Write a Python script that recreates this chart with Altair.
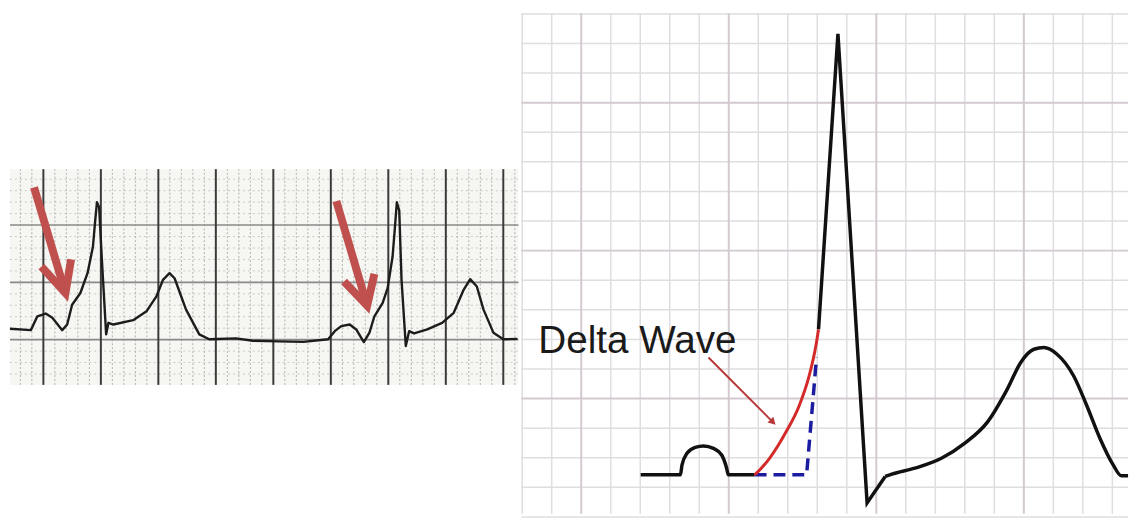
import altair as alt
import pandas as pd

# ---------------- LEFT PANEL: recorded strip (units: mm of ECG paper) ----------------
beat1_t = [-2.91, -1.09, -0.52, 0.20, 0.78, 1.64, 2.07, 2.50, 3.22, 3.84, 4.31, 4.51, 4.66,
           4.85, 5.09, 5.46, 5.66, 6.09, 7.81, 8.97, 9.83, 10.40, 10.97, 11.41, 12.41, 13.56]
beat1_v = [0.95, 0.83, 2.04, 2.28, 1.90, 0.83, 1.32, 3.05, 4.07, 5.80, 8.10, 10.41, 11.99,
           11.56, 6.95, 0.46, 1.47, 1.32, 1.70, 2.47, 3.77, 5.22, 5.80, 5.36, 2.62, 0.46]
pause_t = [14.42, 16.75, 18.21, 20.45, 22.61, 24.77]
pause_v = [0.03, 0.11, -0.10, -0.15, -0.19, 0.03]
beat2_t = [25.34, 25.91, 26.64, 27.21, 27.87, 28.36, 28.79, 29.51, 29.94, 30.37, 30.60, 30.74,
           30.95, 31.15, 31.52, 31.81, 32.24, 33.39, 34.68, 35.69, 36.55, 37.12, 37.70, 38.28,
           39.14, 40.00, 41.23]
beat2_v = [0.74, 1.18, 1.32, 0.89, -0.21, 0.61, 2.04, 3.20, 4.50, 7.23, 10.12, 11.99,
           11.27, 5.22, -0.55, 0.74, 0.54, 0.89, 1.47, 2.34, 4.35, 5.28, 4.64, 2.62,
           0.61, 0.03, 0.07]

# red arrows pointing at the delta waves: [shaft start, tip, wing L, wing R]
arrow1_x = [-0.81, 1.92, -0.17, 2.41]
arrow1_y = [13.29, 4.07, 6.37, 7.01]
arrow2_x = [25.48, 28.16, 26.15, 28.79]
arrow2_y = [12.08, 2.97, 5.07, 5.74]

strip_x = [-2.905, 41.32]
strip_y = [-3.95, 14.88]
L_DOM_X = [-2.99, 41.32]
L_DOM_Y = [-15.2, 28.75]

# ---------------- RIGHT PANEL: schematic (units: small grid squares) ----------------
p_t = [2.015, 3.359, 3.416, 3.584, 3.863, 4.145, 4.481, 4.760, 4.928, 4.985, 5.878]
p_v = [0.422, 0.422, 0.757, 1.149, 1.350, 1.400, 1.317, 1.092, 0.647, 0.422, 0.422]
delta_t = [5.878, 6.103, 6.382, 6.943, 7.390, 7.726, 7.951, 8.042]
delta_v = [0.422, 0.647, 0.982, 1.876, 2.767, 3.772, 4.777, 5.337]
qrs_t = [8.042, 8.700, 9.688, 10.302]
qrs_v = [5.337, 15.330, -0.526, 0.369]
st_t = [10.302, 10.527, 11.310, 12.207, 12.990, 13.772, 14.444, 14.894, 15.341, 15.677,
        16.124, 16.685, 17.131, 17.581, 18.028, 18.307, 18.532]
st_v = [0.369, 0.446, 0.647, 0.982, 1.484, 2.211, 3.327, 4.221, 4.667, 4.724,
        4.499, 3.772, 2.767, 1.652, 0.757, 0.389, 0.389]
normal_t = [5.878, 7.638, 7.974]
normal_v = [0.422, 0.422, 4.389]
label_text = "Delta Wave"
label_pos = [-1.455, 4.533]
pointer_x = [4.313, 6.47]
pointer_y = [4.389, 2.23]

grid_x = [-2.026, 18.532]
grid_y = [-0.894, 16.02]
R_DOM_X = [-2.026, 18.532]
R_DOM_Y = [-0.894, 16.124]


# ---------------- helpers ----------------
def sx(dom, f="x"):
    return alt.X(f"{f}:Q", scale=alt.Scale(domain=dom, nice=False, zero=False), axis=None)


def sy(dom, f="y"):
    return alt.Y(f"{f}:Q", scale=alt.Scale(domain=dom, nice=False, zero=False), axis=None)


def line_df(t, v):
    return pd.DataFrame({"x": t, "y": v, "o": list(range(len(t)))})


# ---------------- LEFT chart ----------------
lstrip = alt.Chart(pd.DataFrame({"x": [strip_x[0]], "x2": [strip_x[1]],
                                 "y": [strip_y[0]], "y2": [strip_y[1]]})).mark_rect(
    color="#f6f6f2").encode(x=sx(L_DOM_X), x2="x2:Q", y=sy(L_DOM_Y), y2="y2:Q")

vmin = [k for k in range(-2, 42) if k % 5]
vmaj = [k for k in range(0, 42, 5)]
hmin = [k for k in range(-3, 15) if k % 5]
hmaj = [0, 5, 10]

def vlines(xs):
    return pd.DataFrame({"x": xs, "y": [strip_y[0]] * len(xs), "y2": [strip_y[1]] * len(xs)})

def hlines(ys):
    return pd.DataFrame({"y": ys, "x": [strip_x[0]] * len(ys), "x2": [strip_x[1]] * len(ys)})

l_vmin = alt.Chart(vlines(vmin)).mark_rule(color="#b0b0b0", strokeWidth=1, strokeDash=[2, 2]).encode(
    x=sx(L_DOM_X), y=sy(L_DOM_Y), y2="y2:Q")
l_hmin = alt.Chart(hlines(hmin)).mark_rule(color="#c8c8c8", strokeWidth=1, strokeDash=[2, 3]).encode(
    x=sx(L_DOM_X), x2="x2:Q", y=sy(L_DOM_Y))
l_hmaj = alt.Chart(hlines(hmaj)).mark_rule(color="#8a8a8a", strokeWidth=1.6).encode(
    x=sx(L_DOM_X), x2="x2:Q", y=sy(L_DOM_Y))
l_vmaj = alt.Chart(vlines(vmaj)).mark_rule(color="#3a3a3a", strokeWidth=2).encode(
    x=sx(L_DOM_X), y=sy(L_DOM_Y), y2="y2:Q")

ltrace = alt.Chart(line_df(beat1_t + pause_t + beat2_t, beat1_v + pause_v + beat2_v)).mark_line(
    color="#1c1c1c", strokeWidth=2.4, strokeJoin="round").encode(
    x=sx(L_DOM_X), y=sy(L_DOM_Y), order="o:Q")

arrow_rows = []
for aid, (ax, ay) in enumerate([(arrow1_x, arrow1_y), (arrow2_x, arrow2_y)]):
    arrow_rows += [{"seg": f"s{aid}", "o": 0, "x": ax[0], "y": ay[0]},
                   {"seg": f"s{aid}", "o": 1, "x": ax[1], "y": ay[1]},
                   {"seg": f"h{aid}", "o": 0, "x": ax[2], "y": ay[2]},
                   {"seg": f"h{aid}", "o": 1, "x": ax[1], "y": ay[1]},
                   {"seg": f"h{aid}", "o": 2, "x": ax[3], "y": ay[3]}]
larrows = alt.Chart(pd.DataFrame(arrow_rows)).mark_line(
    color="#c0504d", strokeWidth=8, strokeJoin="miter", strokeCap="butt").encode(
    x=sx(L_DOM_X), y=sy(L_DOM_Y), detail="seg:N", order="o:Q")

left = alt.layer(lstrip, l_hmin, l_vmin, l_hmaj, l_vmaj, ltrace, larrows).properties(
    width=514, height=508)

# ---------------- RIGHT chart ----------------
gv = list(range(-2, 19))
gh = list(range(-1, 17))
gv_min = [k for k in gv if k % 5]
gv_maj = [k for k in gv if k % 5 == 0]
gh_min = [k for k in gh if (k - 3) % 5]
gh_maj = [k for k in gh if (k - 3) % 5 == 0]

def rv(xs):
    return pd.DataFrame({"x": xs, "y": [grid_y[0]] * len(xs), "y2": [grid_y[1]] * len(xs)})

def rh(ys):
    return pd.DataFrame({"y": ys, "x": [grid_x[0]] * len(ys), "x2": [grid_x[1]] * len(ys)})

r_vmin = alt.Chart(rv(gv_min)).mark_rule(color="#dedde0", strokeWidth=1.5).encode(
    x=sx(R_DOM_X), y=sy(R_DOM_Y), y2="y2:Q")
r_hmin = alt.Chart(rh(gh_min)).mark_rule(color="#dedde0", strokeWidth=1.5).encode(
    x=sx(R_DOM_X), x2="x2:Q", y=sy(R_DOM_Y))
r_vmaj = alt.Chart(rv(gv_maj)).mark_rule(color="#d3c9d0", strokeWidth=2).encode(
    x=sx(R_DOM_X), y=sy(R_DOM_Y), y2="y2:Q")
r_hmaj = alt.Chart(rh(gh_maj)).mark_rule(color="#d3c9d0", strokeWidth=2).encode(
    x=sx(R_DOM_X), x2="x2:Q", y=sy(R_DOM_Y))

black = "#111111"
r_p = alt.Chart(line_df(p_t, p_v)).mark_line(color=black, strokeWidth=3.5, interpolate="monotone").encode(
    x=sx(R_DOM_X), y=sy(R_DOM_Y), order="o:Q")
r_qrs = alt.Chart(line_df(qrs_t, qrs_v)).mark_line(color=black, strokeWidth=3.5, strokeJoin="miter").encode(
    x=sx(R_DOM_X), y=sy(R_DOM_Y), order="o:Q")
r_st = alt.Chart(line_df(st_t, st_v)).mark_line(color=black, strokeWidth=3.5, interpolate="monotone").encode(
    x=sx(R_DOM_X), y=sy(R_DOM_Y), order="o:Q")
r_normal = alt.Chart(line_df(normal_t, normal_v)).mark_line(
    color="#1c1ca0", strokeWidth=3.5, strokeDash=[12, 7]).encode(
    x=sx(R_DOM_X), y=sy(R_DOM_Y), order="o:Q")
r_delta = alt.Chart(line_df(delta_t, delta_v)).mark_line(
    color="#d42a2a", strokeWidth=3, interpolate="monotone").encode(
    x=sx(R_DOM_X), y=sy(R_DOM_Y), order="o:Q")
r_ptr = alt.Chart(line_df(pointer_x, pointer_y)).mark_line(color="#b8383a", strokeWidth=2).encode(
    x=sx(R_DOM_X), y=sy(R_DOM_Y), order="o:Q")
r_head = alt.Chart(pd.DataFrame({"x": [pointer_x[1]], "y": [pointer_y[1]]})).mark_point(
    shape="triangle", filled=True, size=70, angle=135, color="#b8383a", opacity=1).encode(
    x=sx(R_DOM_X), y=sy(R_DOM_Y))
r_label = alt.Chart(pd.DataFrame({"x": [label_pos[0]], "y": [label_pos[1]], "t": [label_text]})).mark_text(
    align="left", baseline="alphabetic", font="Liberation Sans", fontSize=39, color="#1a1a1a").encode(
    x=sx(R_DOM_X), y=sy(R_DOM_Y), text="t:N")

right = alt.layer(r_vmin, r_hmin, r_vmaj, r_hmaj, r_p, r_qrs, r_st, r_normal, r_delta,
                  r_ptr, r_head, r_label).properties(width=612, height=508)

chart = alt.hconcat(left, right, spacing=1).properties(
    padding=0, background="white").configure_view(stroke=None)

chart.save("out.html", embed_options={"renderer": "svg", "actions": False})
